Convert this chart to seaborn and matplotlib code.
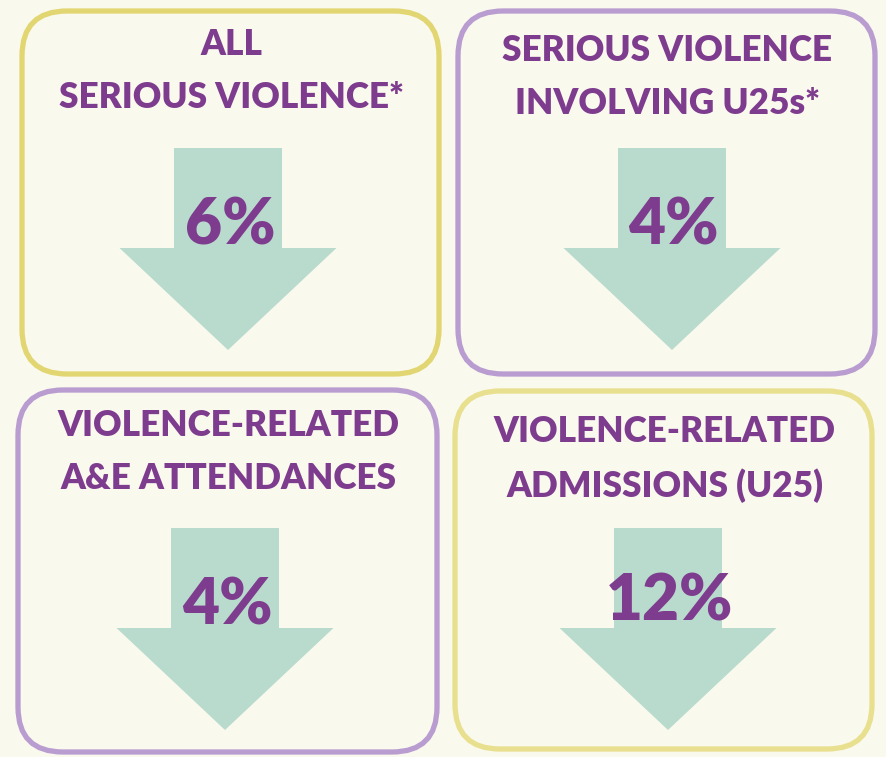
import matplotlib
matplotlib.use("Agg")
import matplotlib.pyplot as plt
from matplotlib.patches import FancyBboxPatch, Polygon
import seaborn as sns

# ---- data ----
titles = ["ALL\nSERIOUS VIOLENCE*",
          "SERIOUS VIOLENCE\nINVOLVING U25s*",
          "VIOLENCE-RELATED\nA&E ATTENDANCES",
          "VIOLENCE-RELATED\nADMISSIONS (U25)"]
values = [6, 4, 4, 12]
border_colors = ["#E2D672", "#B99DD1", "#B99DD1", "#E8E08E"]

# ---- layout (pixels) ----
boxes = [(19, 8, 423, 369), (455, 8, 423, 369), (15, 387, 425, 368), (452, 388, 423, 364)]
arrow_centers = [(228, 148), (672, 148), (225, 528), (668, 528)]
title_y = [71, 77, 452, 459]
pct_pos = [(230, 226), (673, 226), (227, 606), (670, 602)]

BG = "#FAF9EE"
ARROW = "#B9DBCD"
PURPLE = "#7E3C8E"

sns.set_theme(style="white")
plt.rcParams['font.family'] = ['Lato', 'DejaVu Sans']

fig = plt.figure(figsize=(8.87, 7.57), dpi=100)
fig.patch.set_facecolor(BG)
ax = fig.add_axes([0, 0, 1, 1])
ax.set_facecolor(BG)
ax.set_xlim(0, 887)
ax.set_ylim(757, 0)
ax.axis("off")

for i, (t, v, c) in enumerate(zip(titles, values, border_colors)):
    x, y, w, h = boxes[i]
    ax.add_patch(FancyBboxPatch((x + 3, y + 3), w - 6, h - 6,
                                boxstyle="round,pad=0,rounding_size=45",
                                facecolor=BG, edgecolor=c, linewidth=3.8))
    cx, top = arrow_centers[i]
    sw, hw, sh, hh = 54, 108.5, 100, 102
    pts = [(cx - sw, top), (cx + sw, top), (cx + sw, top + sh), (cx + hw, top + sh),
           (cx, top + sh + hh), (cx - hw, top + sh), (cx - sw, top + sh)]
    ax.add_patch(Polygon(pts, closed=True, facecolor=ARROW, edgecolor="none"))
    ax.text(x + w / 2 + 1, title_y[i], t, ha="center", va="center",
            fontsize=25.3, fontweight="heavy", color=PURPLE, linespacing=1.74)
    px, py = pct_pos[i]
    ax.text(px, py, f"{v}%", ha="center", va="center",
            fontsize=46, fontweight="heavy", color=PURPLE)

fig.savefig("out.png", dpi=100, facecolor=BG)
